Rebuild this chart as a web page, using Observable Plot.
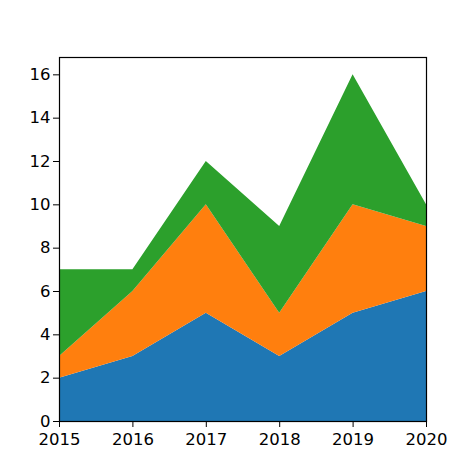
<!DOCTYPE html>
<html>
<head>
<meta charset="utf-8">
<script src="https://cdn.jsdelivr.net/npm/d3@7"></script>
<script src="https://cdn.jsdelivr.net/npm/@observablehq/plot@0.6"></script>
<style>
html,body{margin:0;padding:0;background:#fff;}
</style>
</head>
<body>
<div id="chart"></div>
<script>
const years = [2015, 2016, 2017, 2018, 2019, 2020];
const seriesA = [2, 3, 5, 3, 5, 6];
const seriesB = [1, 3, 5, 2, 5, 3];
const seriesC = [4, 1, 2, 4, 6, 1];
const seriesNames = ["A", "B", "C"];
const seriesColors = ["#1f77b4", "#ff7f0e", "#2ca02c"];
const yTicks = [0, 2, 4, 6, 8, 10, 12, 14, 16];

const allSeries = [seriesA, seriesB, seriesC];
const data = [];
allSeries.forEach((vals, i) => {
  vals.forEach((v, j) => data.push({year: years[j], value: v, series: seriesNames[i]}));
});

const chart = Plot.plot({
  width: 474,
  height: 474,
  marginLeft: 59,
  marginRight: 48,
  marginTop: 57,
  marginBottom: 53,
  style: {fontFamily: "DejaVu Sans", fontSize: "16px", background: "#fff", color: "black"},
  x: {domain: [2015, 2020]},
  y: {domain: [0, 16.8]},
  color: {domain: seriesNames, range: seriesColors},
  marks: [
    Plot.areaY(data, {x: "year", y: "value", z: "series", fill: "series", order: seriesNames}),
    Plot.axisX({ticks: years, tickFormat: d => String(d), tickSize: 6, tickPadding: 6, stroke: "black", fill: "black", fontSize: 16.5, label: null}),
    Plot.axisY({ticks: yTicks, tickFormat: d => String(d), tickSize: 6, tickPadding: 3, stroke: "black", fill: "black", fontSize: 16.5, label: null}),
    Plot.frame({stroke: "black", strokeWidth: 1.2})
  ]
});
document.getElementById("chart").appendChild(chart);
</script>
</body>
</html>
